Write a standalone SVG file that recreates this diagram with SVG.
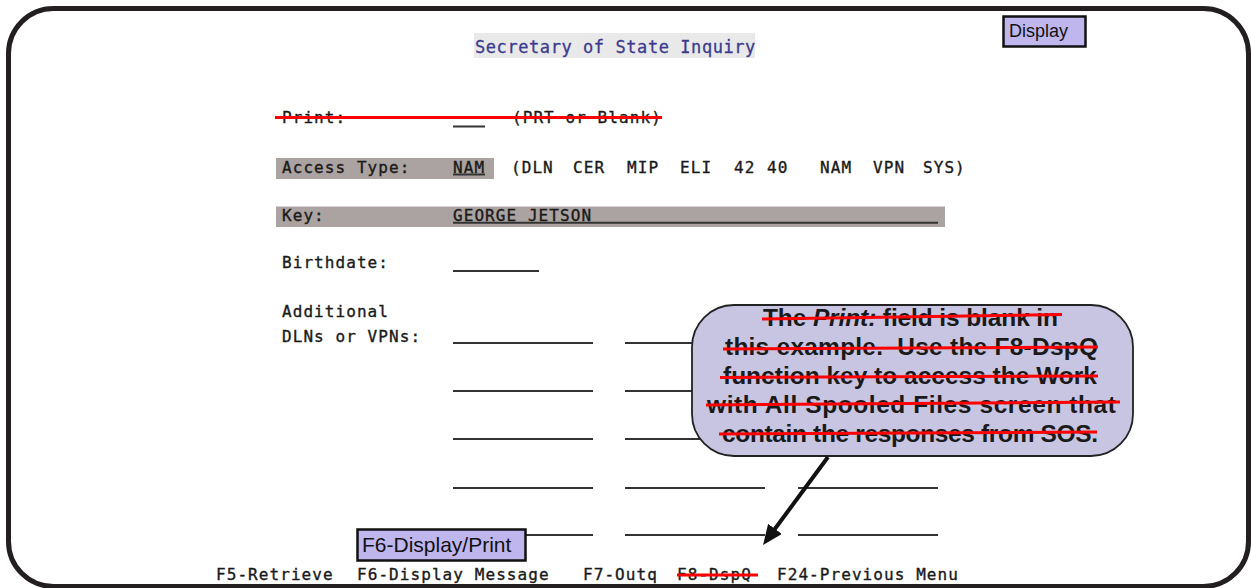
<svg xmlns="http://www.w3.org/2000/svg" width="1251" height="588" viewBox="0 0 1251 588">
  <style>
    .scr { font-family: "DejaVu Sans Mono", "Liberation Mono", monospace; font-size: 16px; letter-spacing: 1.07px; fill: #1a1a1a; stroke: #1a1a1a; stroke-width: 0.35px; }
    .title { font-family: "DejaVu Sans Mono", "Liberation Mono", monospace; font-size: 17px; letter-spacing: 0.57px; fill: #3b3b8e; stroke: #3b3b8e; stroke-width: 0.3px; }
    .bar { fill: #aaa3a1; }
    .fld { stroke: #333; stroke-width: 2; fill: none; }
    .strike { stroke: #ff0000; stroke-width: 3; fill: none; }
    .tag { fill: #bfb6ee; stroke: #111; stroke-width: 2.5; }
    .tagtxt { font-family: "Liberation Sans", Arial, sans-serif; fill: #111; }
    .note { font-family: "Liberation Sans", Arial, sans-serif; font-size: 24.5px; font-weight: bold; fill: #1a1a1a; text-anchor: middle; white-space: pre; }
  </style>
  <defs>
    <marker id="head" markerUnits="userSpaceOnUse" markerWidth="20" markerHeight="17" viewBox="0 0 20 17" refX="8" refY="8.5" orient="auto">
      <path d="M0,0 L20,8.5 L0,17 z" fill="#111"/>
    </marker>
  </defs>

  <rect x="0" y="0" width="1251" height="588" fill="#fff"/>

  <!-- outer frame -->
  <g id="frame">
    <rect x="8.5" y="8.5" width="1240" height="578" rx="45" ry="45" fill="none" stroke="#231f20" stroke-width="5"/>
  </g>

  <!-- screen heading -->
  <g id="title">
    <rect x="474" y="33" width="281" height="25" fill="#e9e9e9"/>
    <text class="title" x="475" y="52.5">Secretary of State Inquiry</text>
  </g>

  <!-- Print row (struck out) -->
  <g id="print-row">
    <text class="scr" x="282" y="122.5">Print:</text>
    <line class="fld" x1="453" y1="126.5" x2="485" y2="126.5"/>
    <text class="scr" x="512" y="122.5">(PRT or Blank)</text>
    <line class="strike" x1="275" y1="117.5" x2="662" y2="117.5"/>
  </g>

  <!-- Access Type row -->
  <g id="access-row">
    <rect class="bar" x="276" y="158" width="218" height="21"/>
    <text class="scr" x="282" y="172.5">Access Type:</text>
    <text class="scr" x="453" y="172.5">NAM</text>
    <line class="fld" x1="453" y1="174.5" x2="485" y2="174.5"/>
    <text class="scr" y="172.5"><tspan x="511">(DLN</tspan><tspan x="573">CER</tspan><tspan x="627">MIP</tspan><tspan x="680">ELI</tspan><tspan x="734">42</tspan><tspan x="767">40</tspan><tspan x="820">NAM</tspan><tspan x="873">VPN</tspan><tspan x="923">SYS)</tspan></text>
  </g>

  <!-- Key row -->
  <g id="key-row">
    <rect class="bar" x="276" y="206.5" width="669" height="20.5"/>
    <text class="scr" x="282" y="221">Key:</text>
    <text class="scr" x="453" y="221">GEORGE JETSON</text>
    <line class="fld" x1="453" y1="222.8" x2="938" y2="222.8"/>
  </g>

  <!-- Birthdate row -->
  <g id="birthdate-row">
    <text class="scr" x="282" y="268">Birthdate:</text>
    <line class="fld" x1="453" y1="271" x2="539" y2="271"/>
  </g>

  <!-- Additional DLN / VPN entry fields -->
  <g id="additional-row">
    <text class="scr" x="282" y="316.5">Additional</text>
    <text class="scr" x="282" y="341.5">DLNs or VPNs:</text>
    <g class="fld">
      <line x1="453" y1="343" x2="593" y2="343"/><line x1="625" y1="343" x2="765" y2="343"/><line x1="798" y1="343" x2="938" y2="343"/>
      <line x1="453" y1="391" x2="593" y2="391"/><line x1="625" y1="391" x2="765" y2="391"/><line x1="798" y1="391" x2="938" y2="391"/>
      <line x1="453" y1="439" x2="593" y2="439"/><line x1="625" y1="439" x2="765" y2="439"/><line x1="798" y1="439" x2="938" y2="439"/>
      <line x1="453" y1="488" x2="593" y2="488"/><line x1="625" y1="488" x2="765" y2="488"/><line x1="798" y1="488" x2="938" y2="488"/>
      <line x1="453" y1="535" x2="593" y2="535"/><line x1="625" y1="535" x2="765" y2="535"/><line x1="798" y1="535" x2="938" y2="535"/>
    </g>
  </g>

  <!-- function key line -->
  <g id="fkeys">
    <text class="scr" x="216" y="580">F5-Retrieve</text>
    <text class="scr" x="357" y="580">F6-Display Message</text>
    <text class="scr" x="583" y="580">F7-Outq</text>
    <text class="scr" x="677" y="580">F8-DspQ</text>
    <line class="strike" x1="677" y1="575" x2="758" y2="575"/>
    <text class="scr" x="777" y="580">F24-Previous Menu</text>
  </g>

  <!-- labels -->
  <g id="display-tag">
    <rect class="tag" x="1003.5" y="16.5" width="82" height="30"/>
    <text class="tagtxt" x="1009" y="37" font-size="18">Display</text>
  </g>

  <g id="f6-tag">
    <rect class="tag" x="357.5" y="529.5" width="168" height="31"/>
    <text class="tagtxt" x="362" y="552" font-size="21">F6-Display/Print</text>
  </g>

  <!-- explanatory callout (struck out) -->
  <g id="callout">
    <rect x="692" y="305" width="441" height="151" rx="42" ry="42" fill="#c8c5e3" stroke="#222" stroke-width="1.8"/>
    <text class="note" x="910.5" y="326" textLength="295" lengthAdjust="spacing">The <tspan font-style="italic">Print:</tspan> field is blank in</text>
    <text class="note" x="911.5" y="355" textLength="373" lengthAdjust="spacing">this example.  Use the F8-DspQ</text>
    <text class="note" x="910" y="384" textLength="374" lengthAdjust="spacing">function key to access the Work</text>
    <text class="note" x="911.5" y="413" textLength="409" lengthAdjust="spacing">with All Spooled Files screen that</text>
    <text class="note" x="910" y="442" textLength="376" lengthAdjust="spacing">contain the responses from SOS.</text>
    <g class="strike">
      <line x1="762" y1="319" x2="1062" y2="314.5"/>
      <line x1="723" y1="349" x2="1098" y2="347"/>
      <line x1="720" y1="377.5" x2="1098" y2="376"/>
      <line x1="706" y1="405" x2="1120" y2="402"/>
      <line x1="719" y1="434" x2="1097" y2="432"/>
    </g>
  </g>

  <!-- connectors -->
  <g id="connectors">
    <line x1="828" y1="457" x2="770.2" y2="535.3" stroke="#111" stroke-width="4" marker-end="url(#head)"/>
  </g>
</svg>
